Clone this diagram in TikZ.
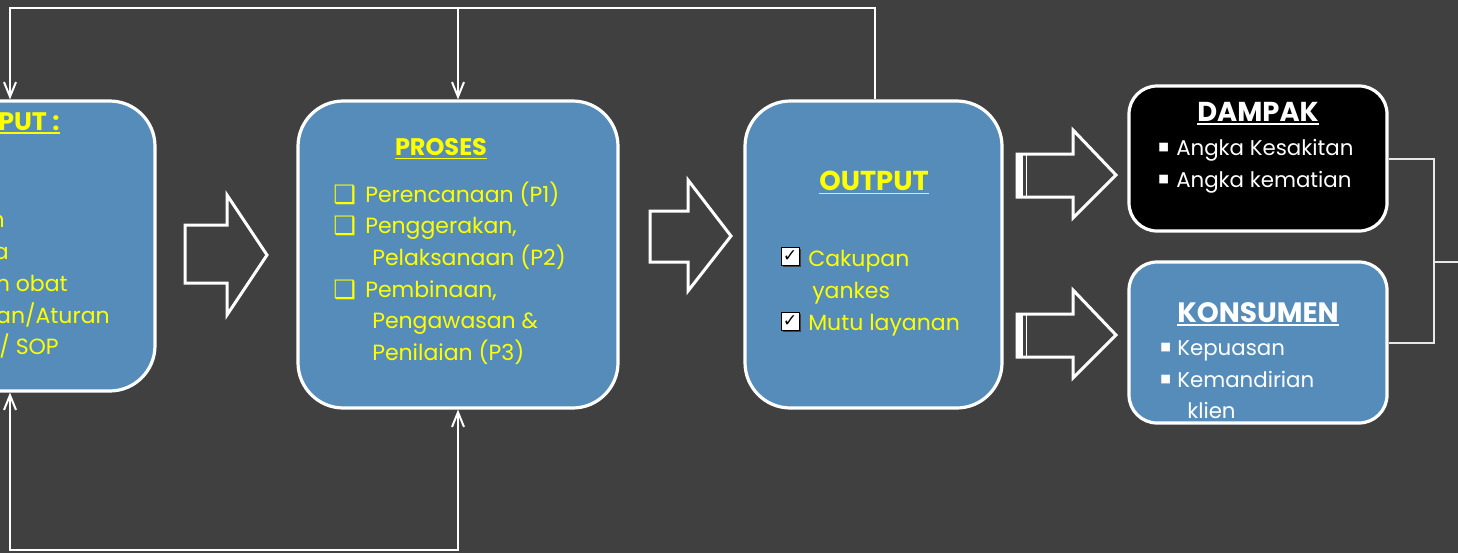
\documentclass[tikz,border=0pt]{standalone}
\usepackage{fontspec}
\setmainfont{Poppins}
\newfontfamily\symfont{DejaVu Sans}
\usepackage{tikz}
\usetikzlibrary{arrows.meta,shadows}

\definecolor{bgdark}{RGB}{64,64,64}
\definecolor{boxblue}{RGB}{85,140,186}
\definecolor{txtyellow}{RGB}{255,255,0}
\definecolor{linegray}{RGB}{232,232,232}

\newcommand{\bodyfont}{\fontsize{16.5}{20}\selectfont}
\newcommand{\headfont}{\bfseries\fontsize{18}{22}\selectfont}
\newcommand{\bigheadfont}{\bfseries\fontsize{20.5}{24}\selectfont}

\begin{document}
\begin{tikzpicture}[x=0.75pt,y=-0.75pt,
    panel/.style={draw=white, line width=2.4pt, fill=boxblue, rounded corners=34pt, inner sep=0pt},
    darkpanel/.style={panel, fill=black, rounded corners=21pt},
    link/.style={draw=white, line width=1.5pt},
    linkarrow/.style={link, -{Straight Barb[length=11pt,width=9pt]}},
    linkboth/.style={link, {Straight Barb[length=11pt,width=9pt]}-{Straight Barb[length=11pt,width=9pt]}},
    sidelink/.style={draw=linegray, line width=1.5pt},
    blockarrow/.style={draw=white, line width=2.25pt, line join=miter},
    ytxt/.style={text=txtyellow, font=\bodyfont, inner sep=0pt, anchor=base west},
    wtxt/.style={ytxt, text=white, font=\fontsize{16}{20}\selectfont},
    bul/.style={wtxt, font=\symfont\fontsize{8.5}{10}\selectfont},
    yhead/.style={text=txtyellow, font=\headfont, inner sep=0pt, anchor=base},
    whead/.style={yhead, text=white, font=\bigheadfont},
    yline/.style={draw=txtyellow, line width=1.4pt},
    wline/.style={yline, draw=white},
    okbox/.style={fill=white, draw=black, line width=0.7pt, minimum size=13.5pt, inner sep=0pt,
      text=black, font=\symfont\bfseries\fontsize{13}{13}\selectfont,
      drop shadow={shadow xshift=1.4pt, shadow yshift=-1.4pt, fill=black!75, opacity=1}}]

    % canvas
    \useasboundingbox (0,0) rectangle (1458,553);
    \clip (0,0) rectangle (1458,553);
    \fill[bgdark] (0,0) rectangle (1458,553);

    % boxes
    \node[panel, minimum width=236.25pt, minimum height=217.5pt] (input) at (-2.5,246) {};
    \node[panel, minimum width=240pt, minimum height=230.25pt] (proses) at (458,254.5) {};
    \node[panel, minimum width=192.75pt, minimum height=230.25pt] (output) at (873.5,254.5) {};
    \node[darkpanel, minimum width=193.5pt, minimum height=108.75pt] (dampak) at (1258,158.5) {};
    \node[panel, rounded corners=21pt, minimum width=193.5pt, minimum height=120.75pt] (konsumen) at (1258,342.5) {};

    % feedback lines
    \coordinate (tl) at (10,8);
    \coordinate (tm) at (458,8);
    \coordinate (tr) at (875,8);
    \coordinate (bl) at (10,550);
    \coordinate (bm) at (458,550);
    \draw[linkarrow] (tr |- output.north) -- (tr) -- (tl) -- (tl |- input.north);
    \draw[linkarrow] (tm) -- (proses.north);
    \draw[linkboth] (proses.south) -- (bm) -- (bl) -- (bl |- input.south);

    % right side bracket
    \coordinate (jn) at (1434,262);
    \coordinate (rout) at (1460,262);
    \draw[sidelink] (dampak.east) -| (jn) |- (konsumen.east);
    \draw[sidelink] (jn) -- (rout);

    % block arrows
    \draw[blockarrow] (185,225) -- (227,225) -- (227,195) -- (267,255) -- (227,315) -- (227,283) -- (185,283) -- cycle;
    \draw[blockarrow] (650,211) -- (688,211) -- (688,180) -- (731,236) -- (688,291) -- (688,262) -- (650,262) -- cycle;
    \foreach \dy in {0,160} {
        \draw[blockarrow] (1017,154+\dy) -- (1073,154+\dy) -- (1073,130+\dy) -- (1116,175+\dy)
            -- (1073,218+\dy) -- (1073,197+\dy) -- (1017,197+\dy) -- cycle;
        \fill[white] (1017,154+\dy) rectangle (1023,197+\dy);
        \draw[white, line width=0.9pt] (1026.5,154+\dy) -- (1026.5,197+\dy);
    }

    % input text (cut at the left edge)
    \node[yhead, anchor=base west, font=\bfseries\fontsize{19}{22}\selectfont] (inhd) at (-2,130) {PUT :};
    \draw[yline] ([yshift=-2.4pt]inhd.base west) -- ([yshift=-2.4pt]inhd.base east);
    \foreach \px/\py/\txt [count=\i] in {5/227/n, 9/259/a, 68/291/{m obat}, 110/323/{an/Aturan}, 59/354/{/ SOP}}
        \node[ytxt, anchor=base east] (in\i) at (\px,\py) {\txt};

    % proses text
    \node[yhead] (prhd) at (441,155) {PROSES};
    \draw[yline] ([yshift=-2.6pt]prhd.base west) -- ([yshift=-2.6pt]prhd.base east);
    \foreach \py [count=\i] in {202,233,297}
        \node[ytxt, font=\symfont\bfseries\fontsize{19}{20}\selectfont] (prbox\i) at (333,\py+1) {❑};
    \foreach \px/\py/\txt [count=\i] in {365/202/{Perencanaan (P1)}, 365/233/{Penggerakan,},
            372/265/{Pelaksanaan (P2)}, 365/297/{Pembinaan,}, 372/328/{Pengawasan \&}, 372/360/{Penilaian (P3)}}
        \node[ytxt] (pr\i) at (\px,\py) {\txt};

    % output text
    \node[yhead, font=\bfseries\fontsize{20.5}{24}\selectfont] (ouhd) at (874,190) {OUTPUT};
    \draw[yline] ([yshift=-2.6pt]ouhd.base west) -- ([yshift=-2.6pt]ouhd.base east);
    \node[okbox] (ck1) at (790,256.5) {✓};
    \node[okbox] (ck2) at (790,321) {✓};
    \node[ytxt] (ou1) at (808,266) {Cakupan};
    \node[ytxt] (ou2) at (812,298) {yankes};
    \node[ytxt] (ou3) at (808,330) {Mutu layanan};

    % dampak text
    \node[whead] (dahd) at (1258,121) {DAMPAK};
    \draw[wline] ([yshift=-2.2pt]dahd.base west) -- ([yshift=-2.2pt]dahd.base east);
    \foreach \py/\txt [count=\i] in {155/{Angka Kesakitan}, 187/{Angka kematian}} {
        \node[bul] (dabul\i) at (1158,\py-5) {■};
        \node[wtxt] (da\i) at (1176,\py) {\txt};
    }

    % konsumen text
    \node[whead, font=\bfseries\fontsize{21}{24}\selectfont] (kohd) at (1258,322) {KONSUMEN};
    \draw[wline] ([yshift=-2.4pt]kohd.base west) -- ([yshift=-2.4pt]kohd.base east);
    \foreach \py [count=\i] in {355,387}
        \node[bul] (kobul\i) at (1160,\py-5) {■};
    \node[wtxt] (ko1) at (1177,355) {Kepuasan};
    \node[wtxt] (ko2) at (1177,387) {Kemandirian};
    \node[wtxt] (ko3) at (1187,418) {klien};
\end{tikzpicture}
\end{document}
